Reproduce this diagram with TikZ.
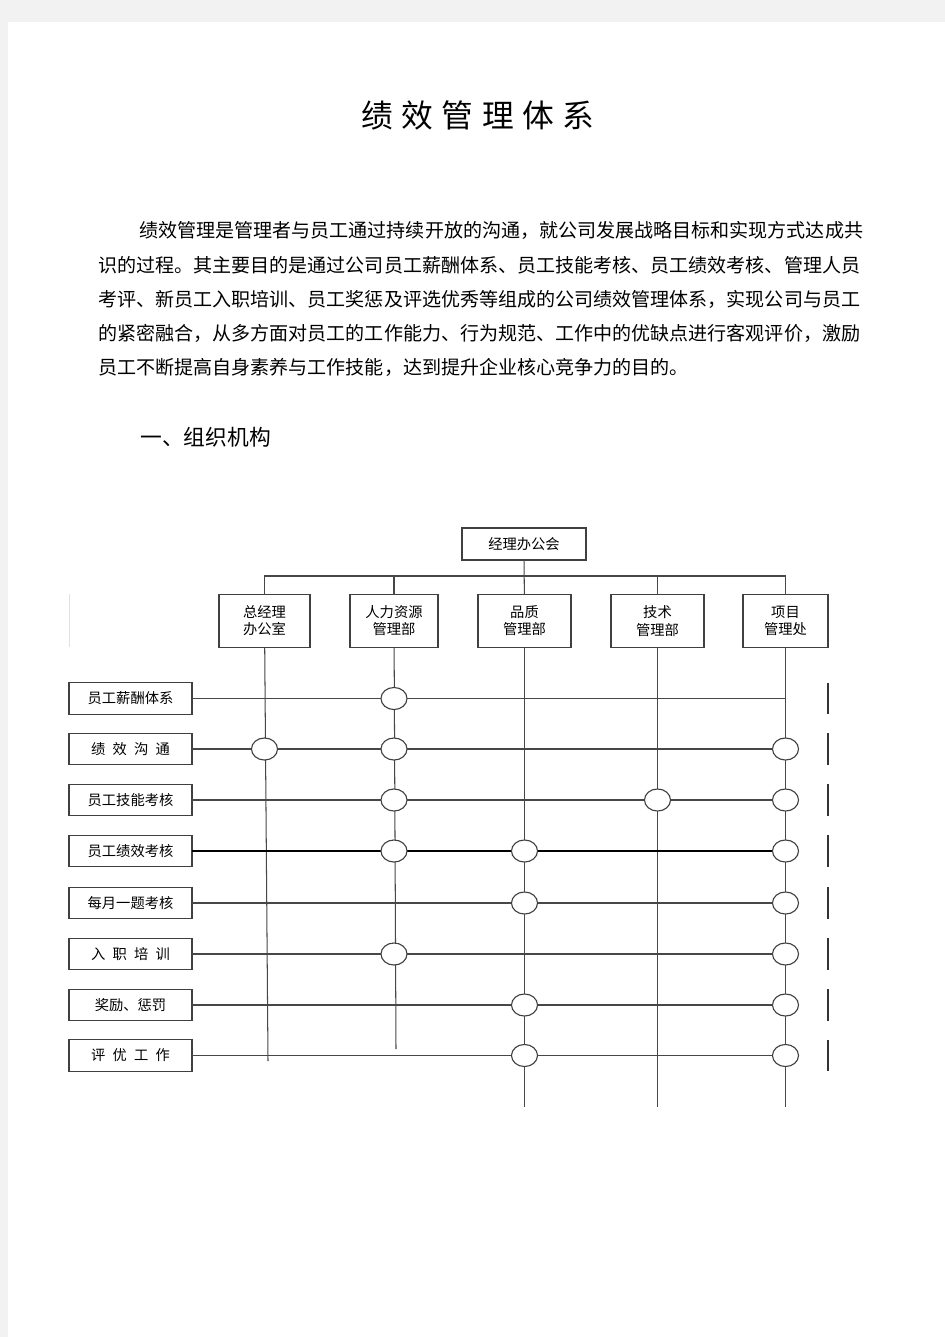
\documentclass[tikz,border=0pt]{standalone}
\usepackage{fontspec}
\usetikzlibrary{shapes.geometric}
\newfontfamily\cjk{Noto Sans CJK SC}
\newcommand{\kgap}{\hspace{0.5em}}
\newcommand{\tgap}{\hspace{5.4pt}}
\newcommand{\deptbox}[5]{\node[dept, minimum width=#3pt] (#1) at (#2,621) {#4\\#5};}
\newcommand{\rowbox}[3]{\node[item] (#1) at (130.5,#2) {#3};}
\newcommand{\hub}[2]{\node[hubnode] (#1#2) at (#1 -| #2) {};}
\newcommand{\bodyline}[4]{\node[body] (#1) at (#2,#3) {#4};}
\tikzset{
  wire/.style={draw=black!72, line width=0.65pt},
  box/.style={draw=black!75, line width=0.8pt, fill=white, inner sep=0pt, outer sep=0pt,
    align=center, font=\cjk\fontsize{9}{10.8}\selectfont},
  dept/.style={box, minimum height=33pt},
  item/.style={box, minimum width=77.5pt, minimum height=19.8pt},
  hubnode/.style={ellipse, draw=black!75, line width=0.7pt, fill=white, inner sep=0pt,
    minimum width=16.4pt, minimum height=13.9pt},
  body/.style={anchor=west, inner sep=0pt, font=\cjk\fontsize{12}{14}\selectfont},
}
\begin{document}
\begin{tikzpicture}[x=0.63pt, y=-0.63pt]
  \useasboundingbox (0,0) rectangle (945,1337);
  \fill[black!5] (0,0) rectangle (945,1337);
  \fill[white] (8,22) rectangle (945,1337);

  \node[font=\cjk\fontsize{20}{24}\selectfont, inner sep=0pt] (title) at (478,115)
    {绩\tgap 效\tgap 管\tgap 理\tgap 体\tgap 系};
  \bodyline{p1}{139}{230}{绩效管理是管理者与员工通过持续开放的沟通，就公司发展战略目标和实现方式达成共}
  \bodyline{p2}{98}{265}{识的过程。其主要目的是通过公司员工薪酬体系、员工技能考核、员工绩效考核、管理人员}
  \bodyline{p3}{98}{299}{考评、新员工入职培训、员工奖惩及评选优秀等组成的公司绩效管理体系，实现公司与员工}
  \bodyline{p4}{98}{333}{的紧密融合，从多方面对员工的工作能力、行为规范、工作中的优缺点进行客观评价，激励}
  \bodyline{p5}{98}{367}{员工不断提高自身素养与工作技能，达到提升企业核心竞争力的目的。}
  \node[body, font=\cjk\fontsize{13.7}{16}\selectfont] (head) at (140,437) {一、组织机构};

  \node[box, minimum width=78pt, minimum height=20pt] (top) at (524,544) {经理办公会};
  \deptbox{zj}{264.5}{57.3}{总经理}{办公室}
  \deptbox{rl}{394}{55.4}{人力资源}{管理部}
  \deptbox{pz}{524.5}{58.6}{品质}{管理部}
  \deptbox{js}{657.5}{58.6}{技术}{管理部}
  \deptbox{xm}{785.5}{53.6}{项目}{管理处}

  \rowbox{r1}{698.5}{员工薪酬体系}
  \rowbox{r2}{749}{绩\kgap 效\kgap 沟\kgap 通}
  \rowbox{r3}{800}{员工技能考核}
  \rowbox{r4}{851}{员工绩效考核}
  \rowbox{r5}{903}{每月一题考核}
  \rowbox{r6}{954}{入\kgap 职\kgap 培\kgap 训}
  \rowbox{r7}{1005}{奖励、惩罚}
  \rowbox{r8}{1055.5}{评\kgap 优\kgap 工\kgap 作}

  \coordinate (bus) at (0,576);
  \coordinate (tickx) at (828,0);
  \coordinate (zj-end) at (268,1061);
  \coordinate (rl-end) at (396,1049);
  \coordinate (pz-end) at (524.5,1107);
  \coordinate (js-end) at (657.5,1107);
  \coordinate (xm-end) at (785.5,1107);

  \draw[black!12, line width=0.6pt] (69,594) -- (69,647);
  \draw[wire] (zj.north) |- (bus -| xm) -- (xm.north);
  \foreach \d in {rl,js}
    \draw[wire] (\d.north) -- (\d.north |- bus);
  \draw[wire] (top) -- (pz);
  \foreach \d in {zj,rl,pz,js,xm}
    \draw[wire] (\d) -- (\d-end);

  \foreach \r in {r1,r2,r3,r5,r6,r7,r8}
    \draw[wire] (\r) -- (\r -| xm);
  \draw[wire, draw=black, line width=1.1pt] (r4) -- (r4 -| xm);
  \foreach \r in {r1,r2,r3,r4,r5,r6,r7,r8}
    \draw[black!80, line width=0.8pt] (\r.north -| tickx) -- (\r.south -| tickx);

  \hub{r1}{rl}
  \hub{r2}{zj} \hub{r2}{rl} \hub{r2}{xm}
  \hub{r3}{rl} \hub{r3}{js} \hub{r3}{xm}
  \hub{r4}{rl} \hub{r4}{pz} \hub{r4}{xm}
  \hub{r5}{pz} \hub{r5}{xm}
  \hub{r6}{rl} \hub{r6}{xm}
  \hub{r7}{pz} \hub{r7}{xm}
  \hub{r8}{pz} \hub{r8}{xm}
\end{tikzpicture}
\end{document}
